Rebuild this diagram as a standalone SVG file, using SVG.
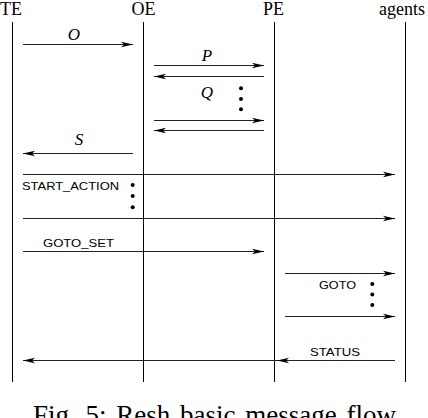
<svg xmlns="http://www.w3.org/2000/svg" width="428" height="418" viewBox="0 0 428 418">
<style>
.life{stroke:#000;stroke-width:1;fill:none}
.msg{stroke:#222;stroke-width:1.1;fill:none}
.hdr{font-family:"Liberation Serif",serif;font-size:18px;fill:#000}
.it{font-family:"Liberation Serif",serif;font-style:italic;font-size:17px;fill:#000}
.lbl{font-family:"Liberation Sans",Arial,sans-serif;font-size:11px;fill:#000}
.dot{fill:#000}
.cap{font-family:"Liberation Serif",serif;font-size:27px;fill:#000}
</style>
<defs>
<marker id="ah" markerWidth="14" markerHeight="8" refX="12" refY="4" orient="auto" markerUnits="userSpaceOnUse">
<path d="M12,4 L0,1.3 L3,4 L0,6.7 Z" fill="#000"/>
</marker>
</defs>
<g id="TE"><text class="hdr" x="0" y="14.5">TE</text><line class="life" x1="12.5" y1="22" x2="12.5" y2="382"/></g>
<g id="OE"><text class="hdr" x="143.5" y="14.5" text-anchor="middle">OE</text><line class="life" x1="143.5" y1="22" x2="143.5" y2="382"/></g>
<g id="PE"><text class="hdr" x="273.5" y="14.5" text-anchor="middle">PE</text><line class="life" x1="274.5" y1="22" x2="274.5" y2="382"/></g>
<g id="agents"><text class="hdr" x="402" y="14.5" text-anchor="middle">agents</text><line class="life" x1="405.5" y1="22" x2="405.5" y2="382"/></g>
<g id="connectors">
<line class="msg" x1="23" y1="44.5" x2="133" y2="44.5" marker-end="url(#ah)"/>
<text class="it" x="74" y="39.5" text-anchor="middle">O</text>
<line class="msg" x1="154" y1="65.5" x2="264" y2="65.5" marker-end="url(#ah)"/>
<line class="msg" x1="264" y1="76.5" x2="154" y2="76.5" marker-end="url(#ah)"/>
<text class="it" x="207" y="61" text-anchor="middle">P</text>
<text class="it" x="207" y="98" text-anchor="middle">Q</text>
<circle class="dot" cx="241" cy="88.3" r="2"/><circle class="dot" cx="241" cy="99" r="2"/><circle class="dot" cx="241" cy="109.3" r="2"/>
<line class="msg" x1="154" y1="120.5" x2="264" y2="120.5" marker-end="url(#ah)"/>
<line class="msg" x1="264" y1="130.5" x2="154" y2="130.5" marker-end="url(#ah)"/>
<text class="it" x="79" y="145" text-anchor="middle">S</text>
<line class="msg" x1="133" y1="153.5" x2="23" y2="153.5" marker-end="url(#ah)"/>
<line class="msg" x1="23" y1="174.5" x2="395" y2="174.5" marker-end="url(#ah)"/>
<text class="lbl" x="22" y="190" textLength="97" lengthAdjust="spacingAndGlyphs">START_ACTION</text>
<circle class="dot" cx="132.7" cy="185" r="2"/><circle class="dot" cx="132.7" cy="196" r="2"/><circle class="dot" cx="132.7" cy="207.3" r="2"/>
<line class="msg" x1="23" y1="218.5" x2="395" y2="218.5" marker-end="url(#ah)"/>
<text class="lbl" x="43" y="247.3" textLength="71" lengthAdjust="spacingAndGlyphs">GOTO_SET</text>
<line class="msg" x1="23" y1="251.5" x2="264" y2="251.5" marker-end="url(#ah)"/>
<line class="msg" x1="285" y1="273.5" x2="395" y2="273.5" marker-end="url(#ah)"/>
<text class="lbl" x="319" y="289" textLength="37" lengthAdjust="spacingAndGlyphs">GOTO</text>
<circle class="dot" cx="372.3" cy="284" r="2"/><circle class="dot" cx="372.3" cy="294.5" r="2"/><circle class="dot" cx="372.3" cy="305" r="2"/>
<line class="msg" x1="285" y1="316.5" x2="395" y2="316.5" marker-end="url(#ah)"/>
<text class="lbl" x="310" y="355.7" textLength="50" lengthAdjust="spacingAndGlyphs">STATUS</text>
<line class="msg" x1="395" y1="360.5" x2="277" y2="360.5" marker-end="url(#ah)"/>
<line class="msg" x1="277" y1="360.5" x2="23" y2="360.5" marker-end="url(#ah)"/>
</g>
<text class="cap" x="33" y="424" word-spacing="3">Fig. 5: Resh basic message flow</text>
</svg>
